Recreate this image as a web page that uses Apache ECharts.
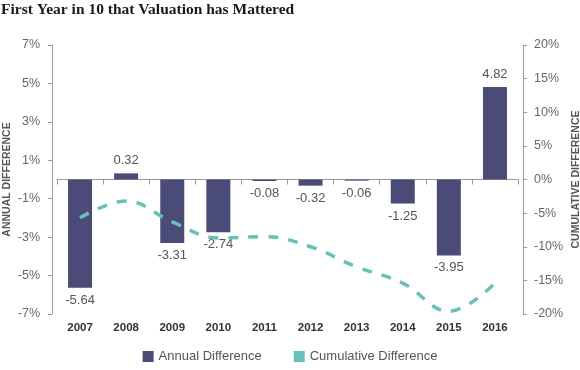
<!DOCTYPE html>
<html><head><meta charset="utf-8">
<script src="https://cdn.jsdelivr.net/npm/echarts@6/dist/echarts.min.js"></script>
<style>html,body{margin:0;padding:0;background:#fff}#c{width:580px;height:370px}</style>
</head><body><div id="c"></div>
<script>
const categories = ['2007','2008','2009','2010','2011','2012','2013','2014','2015','2016'];
const annualDifference = [-5.64, 0.32, -3.31, -2.74, -0.08, -0.32, -0.06, -1.25, -3.95, 4.82];
const cumulativeDifference = [-5.7, -3.2, -6.3, -8.7, -8.5, -10.0, -13.0, -15.4, -19.6, -15.4];
const leftTicks = [-7, -5, -3, -1, 1, 3, 5, 7];
const rightTicks = [-20, -15, -10, -5, 0, 5, 10, 15, 20];

const chart = echarts.init(document.getElementById('c'));
const axisGray = '#9a9a9a';
chart.setOption({
  animation: false,
  title: {
    text: 'First Year in 10 that Valuation has Mattered',
    left: -4, top: -3,
    textStyle: { fontFamily: 'Liberation Serif', fontWeight: 'bold', fontSize: 15.5, color: '#1a1a1a' }
  },
  legend: {
    bottom: 2, left: 'center',
    itemWidth: 11, itemHeight: 11, itemGap: 32,
    textStyle: { color: '#555', fontSize: 13, fontFamily: 'Liberation Sans' },
    data: [
      { name: 'Annual Difference', icon: 'rect' },
      { name: 'Cumulative Difference', icon: 'rect', itemStyle: { color: '#66c2b8' } }
    ]
  },
  grid: { left: 57, right: 62, top: 45, bottom: 56, containLabel: false, outerBoundsMode: 'none' },
  xAxis: {
    type: 'category', data: categories,
    axisLine: { onZero: true, lineStyle: { color: axisGray } },
    axisTick: { show: true, alignWithLabel: false, length: 5, lineStyle: { color: axisGray } },
    axisLabel: { interval: 0, color: '#333', fontWeight: 'bold', fontSize: 11.5, fontFamily: 'Liberation Sans', margin: 8 },
    position: 'bottom'
  },
  yAxis: [
    {
      type: 'value', min: -7, max: 7, offset: 5,
      name: 'ANNUAL DIFFERENCE', nameLocation: 'middle', nameGap: 39, nameRotate: 90, nameMoveOverlap: false,
      nameTextStyle: { color: '#555', fontWeight: 'bold', fontSize: 10.5, fontFamily: 'Liberation Sans' },
      axisLine: { show: true, lineStyle: { color: axisGray } },
      axisTick: { show: true, length: 4, customValues: leftTicks, lineStyle: { color: axisGray } },
      axisLabel: { customValues: leftTicks, formatter: v => v + '%', color: '#666', fontSize: 12.5, fontFamily: 'Liberation Sans', margin: 12 },
      splitLine: { show: false }
    },
    {
      type: 'value', min: -20, max: 20, interval: 5, offset: 5, position: 'right',
      name: 'CUMULATIVE DIFFERENCE', nameLocation: 'middle', nameGap: 48, nameRotate: 90, nameMoveOverlap: false,
      nameTextStyle: { color: '#555', fontWeight: 'bold', fontSize: 10.5, fontFamily: 'Liberation Sans' },
      axisLine: { show: true, lineStyle: { color: axisGray } },
      axisTick: { show: true, length: 4, lineStyle: { color: axisGray } },
      axisLabel: { formatter: v => v + '%', color: '#666', fontSize: 12.5, fontFamily: 'Liberation Sans', margin: 11 },
      splitLine: { show: false }
    }
  ],
  series: [
    {
      name: 'Annual Difference', type: 'bar', yAxisIndex: 0, barWidth: 24,
      data: annualDifference.map(v => ({
        value: v,
        label: { position: v >= 0 ? 'top' : 'bottom' }
      })),
      itemStyle: { color: '#4a4b76' },
      label: { show: true, color: '#555', fontSize: 13, fontFamily: 'Liberation Sans', distance: 6, formatter: p => p.value.toFixed(2) },
      z: 2
    },
    {
      name: 'Cumulative Difference', type: 'line', yAxisIndex: 1, smooth: 0.4,
      data: cumulativeDifference, showSymbol: false, symbol: 'none',
      itemStyle: { color: '#66c2b8' },
      lineStyle: { color: '#66c2b8', width: 3.5, type: [10, 10] },
      z: 3
    }
  ]
});
</script></body></html>
